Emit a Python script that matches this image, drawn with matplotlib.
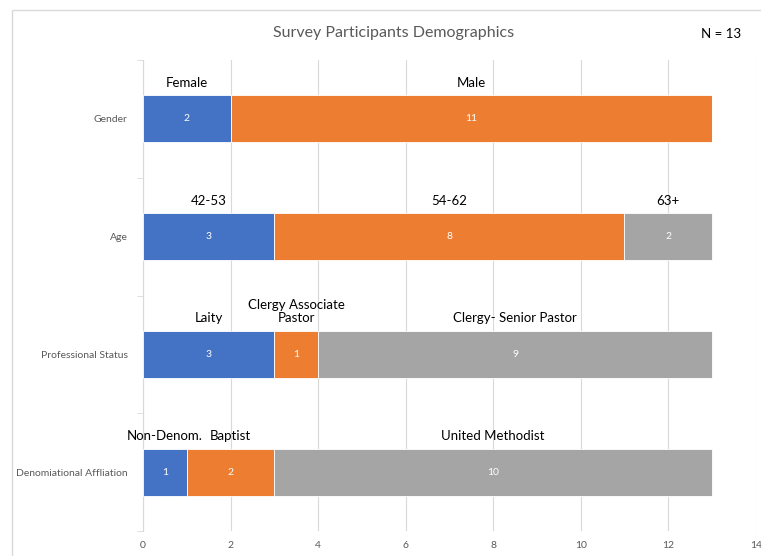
import matplotlib.pyplot as plt
import numpy as np
from matplotlib.patches import Rectangle

# survey data, one row per question (top to bottom)
categories = ['Gender', 'Age', 'Professional Status', 'Denomiational Affliation']
first = [2, 3, 3, 1]
second = [11, 8, 1, 2]
third = [0, 2, 9, 10]
first_names = ['Female', '42-53', 'Laity', 'Non-Denom.']
second_names = ['Male', '54-62', 'Clergy Associate\nPastor', 'Baptist']
third_names = ['', '63+', 'Clergy- Senior Pastor', 'United Methodist']
x_ticks = [0, 2, 4, 6, 8, 10, 12, 14]

plt.rcParams['font.family'] = ['Lato', 'DejaVu Sans']
colors = ['#4472C4', '#ED7D31', '#A5A5A5']

fig = plt.figure(figsize=(7.61, 5.56), dpi=100)
ax = fig.add_axes([0.188, 0.045, 0.805, 0.847])

# chart frame
fig.patches.append(Rectangle((0.016, -0.02), 1.0, 1.002, transform=fig.transFigure,
                             fill=False, edgecolor='#D9D9D9', linewidth=1))

y = np.arange(len(categories))[::-1]
h = 0.4
segs = [first, second, third]
names = [first_names, second_names, third_names]
left = np.zeros(len(categories))
for vals, labs, c in zip(segs, names, colors):
    vals = np.array(vals)
    ax.barh(y, vals, left=left, height=h, color=c, edgecolor='white', linewidth=0.6, zorder=3)
    for yi, v, l0, lab in zip(y, vals, left, labs):
        if v == 0:
            continue
        ax.text(l0 + v / 2, yi, str(v), ha='center', va='center', color='white', fontsize=7.5, zorder=4)
        ax.text(l0 + v / 2, yi + h / 2 + 0.055, lab, ha='center', va='bottom', color='black',
                fontsize=9.5, linespacing=1.1, zorder=4)
    left = left + vals

ax.set_xlim(0, 14)
ax.set_ylim(-0.5, 3.5)
ax.set_xticks(x_ticks)
ax.set_yticks(y)
ax.set_yticklabels(categories)
ax.set_yticks(np.arange(-0.5, 4, 1), minor=True)
ax.tick_params(axis='x', length=0, labelsize=7.5, labelcolor='#595959', pad=7)
ax.tick_params(axis='y', which='major', length=0, labelsize=7.5, labelcolor='#595959', pad=11)
ax.tick_params(axis='y', which='minor', length=4, color='#D9D9D9')
ax.grid(axis='x', color='#D9D9D9', linewidth=0.8, zorder=0)
for s in ['top', 'right', 'bottom']:
    ax.spines[s].set_visible(False)
ax.spines['left'].set_color('#D9D9D9')

fig.text(0.517, 0.94, 'Survey Participants Demographics', ha='center', va='center',
         fontsize=11.5, color='#595959')
fig.text(0.947, 0.938, 'N = 13', ha='center', va='center', fontsize=9.5, color='black')

fig.savefig('out.png', dpi=100)
